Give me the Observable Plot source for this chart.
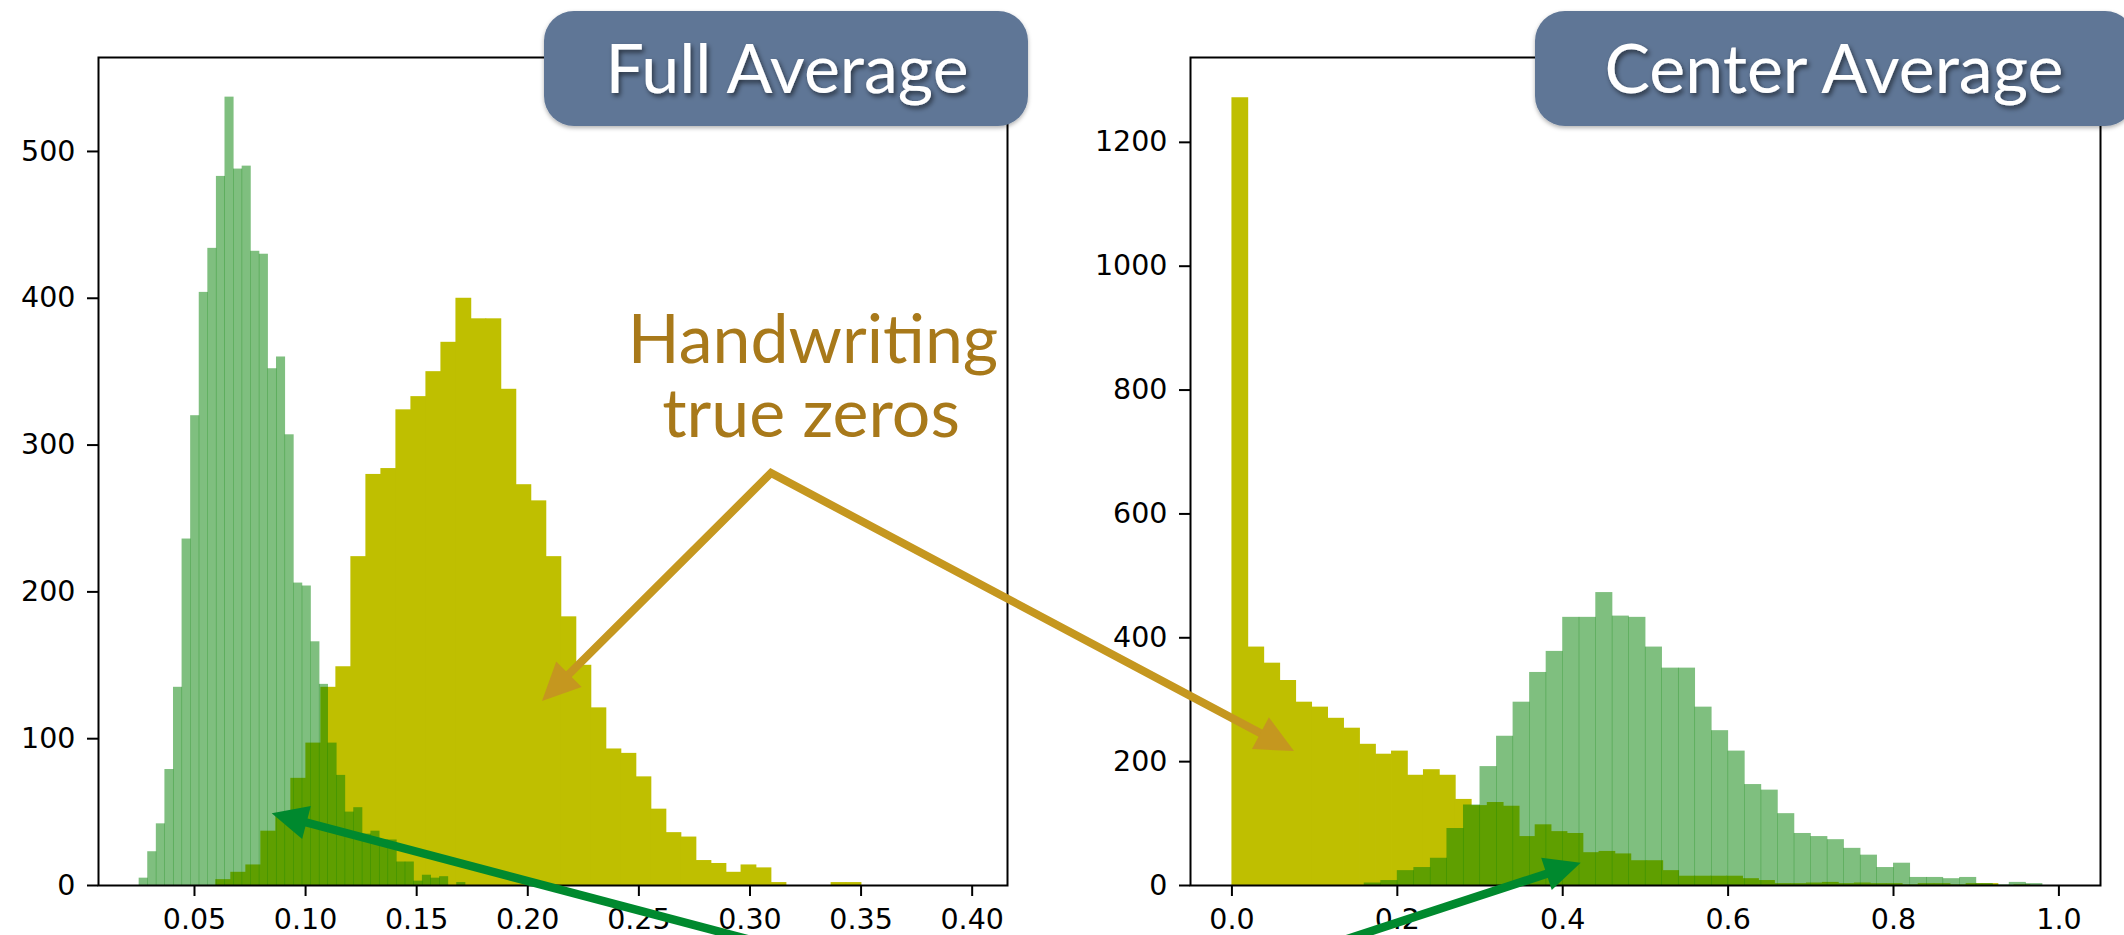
<!DOCTYPE html>
<html>
<head>
<meta charset="utf-8">
<script src="https://cdn.jsdelivr.net/npm/d3@7"></script>
<script src="https://cdn.jsdelivr.net/npm/@observablehq/plot@0.6"></script>
<style>
  html, body { margin: 0; padding: 0; background: #ffffff; }
  #page { position: relative; width: 2124px; height: 935px; overflow: hidden; background: #ffffff; }
  #left { position: absolute; left: 0; top: 0; }
  #right { position: absolute; left: 1100px; top: 0; }
  #ann { position: absolute; left: 0; top: 0; }
</style>
</head>
<body>
<div id="page">
  <div id="left"></div>
  <div id="right"></div>
  <svg id="ann" width="2124" height="935" xmlns="http://www.w3.org/2000/svg"></svg>
</div>
<script>
// ---------------- data ----------------
// Panel titles
const panelTitles = ["Full Average", "Center Average"];
const noteLines = ["Handwriting", "true zeros"];

// Left panel ("Full Average") histogram bins
const leftYellowStart = 0.0596, leftYellowWidth = 0.006754;
const leftYellowCounts = [4, 9, 14, 37, 48, 73, 97, 135, 149, 224,
  280, 284, 324, 333, 350, 370, 400, 386, 386, 338,
  273, 262, 224, 183, 150, 121, 93, 90, 74, 52,
  36, 33, 17, 15, 9, 14, 12, 2, 0, 0,
  0, 2, 2, 0, 0, 0, 0, 0, 0, 0];
const leftGreenStart = 0.0251, leftGreenWidth = 0.003863;
const leftGreenCounts = [5, 23, 42, 79, 135, 236, 320, 404, 434, 483,
  537, 488, 490, 432, 430, 352, 360, 307, 206, 204,
  166, 137, 97, 75, 50, 53, 35, 37, 31, 31,
  16, 16, 3, 7, 5, 6, 0, 2, 0, 0,
  0, 0, 0, 0, 0, 0, 0, 0, 0, 0];

// Right panel ("Center Average") histogram bins
const rightYellowStart = 0.0, rightYellowWidth = 0.0193;
const rightYellowCounts = [1272, 385, 359, 331, 296, 288, 270, 254, 228, 212,
  217, 178, 187, 178, 139, 129, 134, 128, 79, 98,
  87, 84, 53, 55, 51, 40, 40, 24, 15, 15,
  15, 15, 11, 8, 3, 3, 4, 5, 3, 4,
  3, 3, 1, 3, 3, 1, 3, 3, 0, 1];
const rightGreenStart = 0.16, rightGreenWidth = 0.02;
const rightGreenCounts = [4, 8, 24, 29, 44, 92, 130, 192, 241, 296,
  344, 378, 433, 433, 473, 435, 433, 385, 351, 351,
  288, 250, 217, 163, 154, 116, 84, 79, 74, 60,
  49, 29, 36, 13, 13, 11, 13, 3, 1, 5, 3];

// Axis ticks
const leftXTicks = [0.05, 0.10, 0.15, 0.20, 0.25, 0.30, 0.35, 0.40];
const leftYTicks = [0, 100, 200, 300, 400, 500];
const rightXTicks = [0.0, 0.2, 0.4, 0.6, 0.8, 1.0];
const rightYTicks = [0, 200, 400, 600, 800, 1000, 1200];

// ---------------- helpers ----------------
function bins(start, width, counts) {
  return counts.map((c, i) => ({x1: start + i * width, x2: start + (i + 1) * width, count: c}))
               .filter(d => d.count > 0);
}

const YELLOW = "#bfbf00";
const GREEN = "#008000";

function histPanel({width, marginLeft, marginRight, xDomain, yDomain, xTicks, yTicks, xFormat, yellow, green}) {
  return Plot.plot({
    width, height: 935,
    marginLeft, marginRight, marginTop: 57, marginBottom: 50,
    style: {fontFamily: "'DejaVu Sans', sans-serif", fontSize: "28.5px", color: "#000", background: "transparent", overflow: "visible"},
    x: {domain: xDomain},
    y: {domain: yDomain},
    marks: [
      Plot.rectY(yellow, {x1: "x1", x2: "x2", y: "count", fill: YELLOW, insetRight: -0.8}),
      Plot.rectY(green, {x1: "x1", x2: "x2", y: "count", fill: GREEN, fillOpacity: 0.5, insetRight: -0.5}),
      Plot.axisX({ticks: xTicks, tickFormat: xFormat, tickSize: 11, tickPadding: 12, strokeWidth: 2, label: null, fontSize: 28.5}),
      Plot.axisY({ticks: yTicks, tickFormat: d => String(d), tickSize: 11, tickPadding: 12, strokeWidth: 2, label: null, fontSize: 28.5}),
      Plot.frame({stroke: "#000", strokeWidth: 2})
    ]
  });
}

document.getElementById("left").append(histPanel({
  width: 1040, marginLeft: 98, marginRight: 33,
  xDomain: [0.0068, 0.4159], yDomain: [0, 564],
  xTicks: leftXTicks, yTicks: leftYTicks, xFormat: d => d.toFixed(2),
  yellow: bins(leftYellowStart, leftYellowWidth, leftYellowCounts),
  green: bins(leftGreenStart, leftGreenWidth, leftGreenCounts)
}));

document.getElementById("right").append(histPanel({
  width: 1024, marginLeft: 90, marginRight: 24,
  xDomain: [-0.0501, 1.0503], yDomain: [0, 1337],
  xTicks: rightXTicks, yTicks: rightYTicks, xFormat: d => d.toFixed(1),
  yellow: bins(rightYellowStart, rightYellowWidth, rightYellowCounts),
  green: bins(rightGreenStart, rightGreenWidth, rightGreenCounts)
}));

// ---------------- annotations (slide overlay) ----------------
const svg = d3.select("#ann");
const defs = svg.append("defs");
const f = defs.append("filter").attr("id", "tshadow").attr("x", "-10%").attr("y", "-20%").attr("width", "130%").attr("height", "150%");
f.append("feDropShadow").attr("dx", 2).attr("dy", 3).attr("stdDeviation", 2.5).attr("flood-color", "#000").attr("flood-opacity", 0.55);
const fb = defs.append("filter").attr("id", "bshadow").attr("x", "-5%").attr("y", "-10%").attr("width", "110%").attr("height", "130%");
fb.append("feDropShadow").attr("dx", 0).attr("dy", 2).attr("stdDeviation", 2).attr("flood-color", "#000").attr("flood-opacity", 0.3);

function head(tail, tip, L, W) {
  const dx = tip[0] - tail[0], dy = tip[1] - tail[1];
  const n = Math.hypot(dx, dy), ux = dx / n, uy = dy / n;
  const bx = tip[0] - ux * L, by = tip[1] - uy * L;
  const px = -uy, py = ux;
  return {base: [bx + ux * 2, by + uy * 2],
          pts: [[tip[0], tip[1]], [bx + px * W / 2, by + py * W / 2], [bx - px * W / 2, by - py * W / 2]]};
}
function arrow(tail, tip, color, sw, L, W) {
  const h = head(tail, tip, L, W);
  svg.append("line").attr("x1", tail[0]).attr("y1", tail[1]).attr("x2", h.base[0]).attr("y2", h.base[1])
    .attr("stroke", color).attr("stroke-width", sw);
  svg.append("polygon").attr("points", h.pts.map(p => p.join(",")).join(" ")).attr("fill", color);
}

// gold elbow arrows
const GOLD = "#c5971f";
const vtx = [771, 473];
const tipA = [542, 701], tipB = [1294, 751];
const hA = head(vtx, tipA, 38, 36), hB = head(vtx, tipB, 38, 36);
svg.append("polyline").attr("points", [hA.base, vtx, hB.base].map(p => p.join(",")).join(" "))
  .attr("fill", "none").attr("stroke", GOLD).attr("stroke-width", 8).attr("stroke-linejoin", "miter");
svg.append("polygon").attr("points", hA.pts.map(p => p.join(",")).join(" ")).attr("fill", GOLD);
svg.append("polygon").attr("points", hB.pts.map(p => p.join(",")).join(" ")).attr("fill", GOLD);

// green arrows
const DKGREEN = "#00892e";
arrow([800, 953], [271.7, 813.3], DKGREEN, 8.5, 36, 34);
arrow([1283, 960], [1580.7, 862.7], DKGREEN, 8.5, 36, 34);

// gold note text
const note = svg.append("text").attr("fill", "#a8791a").attr("font-family", "Lato, 'Open Sans', sans-serif")
  .attr("font-size", 68).attr("text-anchor", "middle");
note.append("tspan").attr("x", 813).attr("y", 363).text(noteLines[0]);
note.append("tspan").attr("x", 811).attr("y", 437).text(noteLines[1]);

// title boxes
const boxes = [
  {x: 544, y: 11, w: 484, h: 115, cx: 787, label: panelTitles[0]},
  {x: 1535, y: 11, w: 600, h: 115, cx: 1834, label: panelTitles[1]}
];
for (const b of boxes) {
  svg.append("rect").attr("x", b.x).attr("y", b.y).attr("width", b.w).attr("height", b.h)
    .attr("rx", 30).attr("ry", 30).attr("fill", "#5f7696").attr("filter", "url(#bshadow)");
  svg.append("text").attr("x", b.cx).attr("y", 93).attr("text-anchor", "middle")
    .attr("fill", "#ffffff").attr("font-family", "Lato, 'Open Sans', sans-serif").attr("font-size", 68)
    .attr("filter", "url(#tshadow)").text(b.label);
}
</script>
</body>
</html>
